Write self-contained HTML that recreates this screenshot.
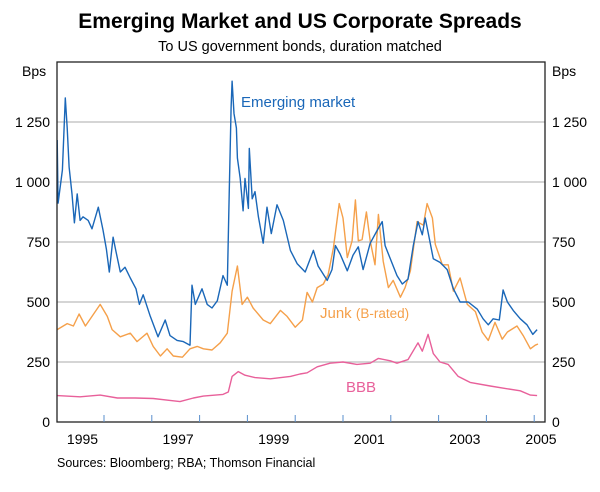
<!DOCTYPE html>
<html><head><meta charset="utf-8"><style>
body{margin:0;background:#fff;}
svg text{font-family:"Liberation Sans",Arial,sans-serif;}
</style></head><body>
<svg id="c" width="600" height="487" viewBox="0 0 600 487">
<text x="300" y="28" text-anchor="middle" font-size="21" font-weight="bold" fill="#000">Emerging Market and US Corporate Spreads</text>
<text x="300" y="51" text-anchor="middle" font-size="14.5" fill="#000">To US government bonds, duration matched</text>
<text x="22" y="76" font-size="14">Bps</text>
<text x="552" y="76" font-size="14">Bps</text>
<g id="grid"></g><g id="series"></g>
<rect x="57" y="62" width="488" height="360" fill="none" stroke="#222" stroke-width="1.3"/>
<g id="axes"></g>
<text x="241" y="107" font-size="15" fill="#1a67b8">Emerging market</text>
<text x="320" y="318" font-size="15" fill="#f5a04a">Junk <tspan font-size="13.5">(B-rated)</tspan></text>
<text x="346" y="392" font-size="15" fill="#e8609a">BBB</text>
<text x="57" y="467" font-size="12.5">Sources: Bloomberg; RBA; Thomson Financial</text>
</svg>
<script>
// time in years since Jan 1995
const emT=[0.02,0.04,0.13,0.19,0.23,0.27,0.33,0.38,0.44,0.50,0.56,0.67,0.75,0.88,0.98,1.05,1.11,1.19,1.25,1.34,1.44,1.55,1.67,1.74,1.82,1.96,2.13,2.28,2.38,2.53,2.66,2.80,2.84,2.91,3.05,3.16,3.26,3.37,3.49,3.58,3.62,3.66,3.68,3.72,3.77,3.79,3.85,3.91,3.95,4.02,4.04,4.10,4.16,4.23,4.33,4.41,4.50,4.62,4.75,4.90,5.04,5.21,5.38,5.48,5.67,5.77,5.84,5.94,6.09,6.21,6.32,6.42,6.57,6.72,6.82,6.88,6.99,7.13,7.24,7.36,7.47,7.57,7.66,7.72,7.78,7.89,8.03,8.18,8.31,8.45,8.62,8.81,8.93,9.04,9.14,9.27,9.35,9.44,9.56,9.71,9.85,9.97,10.06];
const emV=[1175,912,1050,1350,1225,1063,950,830,950,840,855,840,805,895,800,720,625,770,710,625,645,600,555,490,530,445,355,425,360,340,335,320,570,490,555,490,475,505,610,570,950,1310,1420,1285,1225,1100,1015,880,1015,890,1140,930,960,855,745,895,785,905,840,715,660,625,715,650,590,635,735,700,630,695,730,635,745,800,835,735,680,610,575,595,735,835,780,850,790,680,665,635,555,500,500,470,430,405,430,425,550,500,465,430,405,365,385];
const junkT=[0.02,0.23,0.36,0.48,0.61,0.75,0.92,1.07,1.17,1.34,1.55,1.69,1.90,2.03,2.18,2.32,2.45,2.64,2.80,2.95,3.08,3.26,3.43,3.58,3.68,3.79,3.89,4.00,4.12,4.33,4.48,4.69,4.83,5.00,5.15,5.25,5.36,5.46,5.59,5.69,5.80,5.92,6.00,6.09,6.19,6.26,6.32,6.40,6.49,6.57,6.67,6.74,6.84,6.95,7.05,7.20,7.30,7.41,7.55,7.68,7.76,7.87,7.93,8.08,8.20,8.31,8.45,8.60,8.77,8.91,9.04,9.18,9.33,9.44,9.64,9.77,9.92,10.02,10.08];
const junkV=[385,410,400,450,400,440,490,440,385,355,370,335,370,315,275,305,275,270,305,315,305,300,330,370,545,650,490,520,475,425,410,465,440,395,425,540,500,560,575,615,725,910,850,685,755,925,755,760,875,755,655,865,670,560,590,520,560,630,835,820,910,850,740,655,655,545,600,490,460,375,340,415,345,375,400,360,305,320,325];
const bbbT=[0.02,0.5,0.92,1.28,1.65,2.03,2.38,2.59,2.87,3.08,3.49,3.60,3.68,3.81,3.95,4.16,4.48,4.90,5.10,5.25,5.46,5.73,6.00,6.29,6.57,6.74,6.99,7.13,7.36,7.57,7.66,7.78,7.89,8.03,8.20,8.41,8.66,9.08,9.39,9.71,9.92,10.06];
const bbbV=[110,105,112,100,100,98,90,85,100,108,115,125,190,210,195,185,180,190,200,205,230,245,250,240,245,265,255,245,260,330,295,365,285,250,240,190,165,150,140,130,112,110];
const yTicks=[0,250,500,750,1000,1250];
const yTickLabels=["0","250","500","750","1 000","1 250"];
const xLabels=["1995","1997","1999","2001","2003","2005"];
const xLabelYears=[0,2,4,6,8,10];

const X=t=>56.2+t*47.8, Y=v=>422-v*0.24;
const NS="http://www.w3.org/2000/svg";
const mk=(tag,at,parent)=>{const e=document.createElementNS(NS,tag);for(const k in at)e.setAttribute(k,at[k]);parent.appendChild(e);return e;};
const grid=document.getElementById('grid'),axes=document.getElementById('axes'),ser=document.getElementById('series');
yTicks.forEach((v,i)=>{
  if(v>0){const l=mk('line',{x1:57,x2:545,y1:Y(v),y2:Y(v),stroke:'#bcbcbc','stroke-width':1.2},grid);
  
  }
  const a=mk('text',{x:50,y:Y(v)+5,'text-anchor':'end','font-size':14},axes);a.textContent=yTickLabels[i];
  
  
  const b=mk('text',{x:552,y:Y(v)+5,'font-size':14},axes);b.textContent=yTickLabels[i];
  
  
});
for(let k=1;k<=10;k++){
  const t=mk('line',{x1:X(k),x2:X(k),y1:422,y2:415,stroke:'#5a8fcc','stroke-width':1},axes);
  
  
}
xLabels.forEach((s,i)=>{
  const t=mk('text',{x:Math.min(X(xLabelYears[i]+0.55),541),y:444,'text-anchor':'middle','font-size':14},axes);t.textContent=s;
  
  
});
function line(T,V,col,name){
  const d=T.map((t,i)=>(i?'L':'M')+X(t).toFixed(1)+','+Y(V[i]).toFixed(1)).join('');
  const p=mk('path',{d:d,fill:'none',stroke:col,'stroke-width':1.4,'stroke-linejoin':'round'},ser);
  
  
}
line(bbbT,bbbV,'#e8609a','bbb-line');
line(junkT,junkV,'#f5a04a','junk-line');
line(emT,emV,'#1a67b8','emerging-market-line');
</script>
</body></html>
